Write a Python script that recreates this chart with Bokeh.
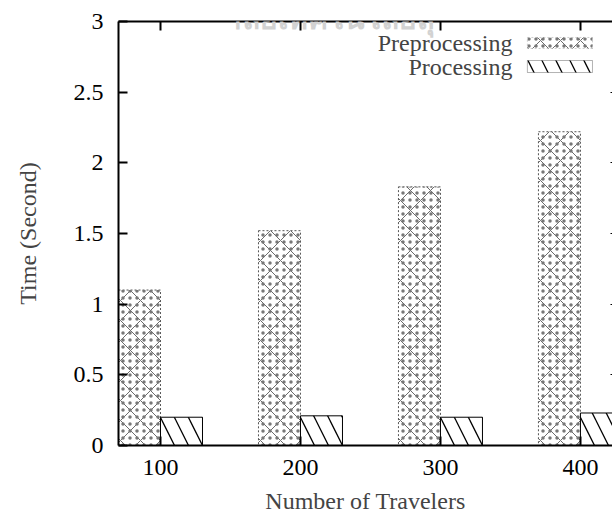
from bokeh.plotting import figure
from bokeh.models import (Range1d, FixedTicker, LinearAxis, ColumnDataSource, Label,
                          BoxAnnotation, CustomJSTickFormatter)
from bokeh.transform import dodge
from bokeh.embed import file_html
from bokeh.resources import INLINE

categories = ["100", "200", "300", "400"]
preprocessing = [1.10, 1.52, 1.83, 2.22]
processing = [0.20, 0.21, 0.20, 0.23]
y_ticks = [0, 0.5, 1, 1.5, 2, 2.5, 3]
series_names = ["Preprocessing", "Processing"]
x_title = "Number of Travelers"
y_title = "Time (Second)"
watermark = "าลัยเทคโนโลยีสุ"

FONT = "'Liberation Serif'"
FS = "24px"
positions = list(range(1, len(categories) + 1))
src = ColumnDataSource(dict(x=positions, pre=preprocessing, proc=processing))

p = figure(width=612, height=516, output_backend="svg", toolbar_location=None,
           x_range=Range1d(0.7, 4.229), y_range=Range1d(0, 3),
           min_border_left=118, min_border_right=0, min_border_top=21, min_border_bottom=71,
           outline_line_color=None)
p.grid.visible = False

PRE = dict(fill_color="white", line_color="#555", line_dash="2 2", line_width=1,
           hatch_pattern="diagonal_cross", hatch_color="#6a6a6a", hatch_scale=20, hatch_weight=1)
PRE_DOTS = dict(fill_color=None, line_color=None,
                hatch_pattern="dot", hatch_color="#777", hatch_scale=7, hatch_weight=1)
PROC = dict(fill_color="white", line_color="black", line_width=1,
            hatch_pattern="left_diagonal_line", hatch_color="black", hatch_scale=28, hatch_weight=1.3)

p.vbar(x=dodge("x", -0.15), top="pre", width=0.3, bottom=0, source=src, **PRE)
p.vbar(x=dodge("x", -0.15), top="pre", width=0.3, bottom=0, source=src, **PRE_DOTS)
p.vbar(x=dodge("x", 0.15), top="proc", width=0.3, bottom=0, source=src, **PROC)

def style(ax):
    ax.axis_line_width = 2
    ax.major_tick_line_width = 2
    ax.major_tick_in = 9
    ax.major_tick_out = 0
    ax.minor_tick_line_color = None
    ax.major_label_text_font = FONT
    ax.major_label_text_font_size = FS
    ax.major_label_text_color = "black"
    ax.axis_label_text_font = FONT
    ax.axis_label_text_font_size = FS
    ax.axis_label_text_font_style = "normal"

xa = p.xaxis[0]
xa.ticker = FixedTicker(ticks=positions)
xa.major_label_overrides = {pos: c for pos, c in zip(positions, categories)}
xa.axis_label = x_title
style(xa)
xa.major_label_standoff = 14
xa.axis_label_standoff = 10

ya = p.yaxis[0]
ya.ticker = FixedTicker(ticks=y_ticks)
ya.formatter = CustomJSTickFormatter(code="return tick.toString();")
ya.axis_label = y_title
style(ya)
ya.major_label_standoff = 15
ya.axis_label_standoff = 30

blank = "return '';"
top = LinearAxis(ticker=FixedTicker(ticks=positions), formatter=CustomJSTickFormatter(code=blank))
style(top)
top.major_label_text_font_size = "0px"
top.major_label_standoff = 0
p.add_layout(top, "above")

right = LinearAxis(ticker=FixedTicker(ticks=y_ticks), formatter=CustomJSTickFormatter(code=blank))
style(right)
right.axis_line_color = None
right.major_tick_in = 2
right.major_tick_line_width = 1
right.major_label_text_font_size = "0px"
right.major_label_standoff = 0
p.add_layout(right, "right")

# legend (label left of swatch)
p.add_layout(Label(x=3.514, y=2.851, text=series_names[0], text_align="right", text_baseline="middle",
                   text_font=FONT, text_font_size=FS))
p.add_layout(Label(x=3.514, y=2.675, text=series_names[1], text_align="right", text_baseline="middle",
                   text_font=FONT, text_font_size=FS))
p.add_layout(BoxAnnotation(left=3.621, right=4.086, top=2.887, bottom=2.809, **PRE))
p.add_layout(BoxAnnotation(left=3.621, right=4.086, top=2.887, bottom=2.809, **PRE_DOTS))
p.add_layout(BoxAnnotation(left=3.621, right=4.086, top=2.724, bottom=2.639, **PROC))

p.add_layout(Label(x=1.464, y=3.028, text=watermark, text_align="left", text_baseline="alphabetic",
                   text_font="Noto Sans", text_font_size="30px", text_font_style="bold",
                   text_color="#d2d2d2"))

open("out.html", "w").write(file_html(p, INLINE))
